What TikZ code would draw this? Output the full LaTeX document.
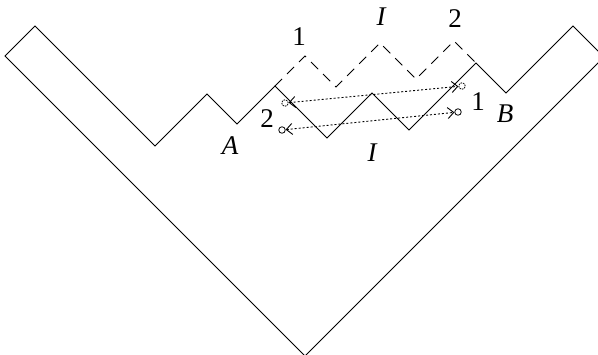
\documentclass[tikz,border=0pt]{standalone}
\usepackage{fontspec}
\setmainfont{Liberation Serif}
\usetikzlibrary{arrows.meta}
\begin{document}
\begin{tikzpicture}[x=1pt,y=-1pt,
  outline/.style={line width=1pt, line join=miter},
  dashline/.style={line width=1pt, dash pattern=on 10pt off 7pt},
  lbl/.style={font=\fontsize{27}{27}\selectfont, inner sep=0pt},
  endpt/.style={circle, draw, line width=0.8pt, minimum size=6.5pt, inner sep=0pt},
  dotendpt/.style={endpt, dash pattern=on 1.5pt off 1pt},
  link/.style={line width=0.9pt, dash pattern=on 2pt off 2pt, {Straight Barb[length=6pt,width=11pt]}-{Straight Barb[length=6pt,width=11pt]}}]
\useasboundingbox (0,0) rectangle (598,354);
\clip (0,0) rectangle (598,354);
% outline
\draw[outline] (5,56) -- (35,26) -- (155,146) -- (207,94) -- (237,124) -- (275,86)
  -- (327,138) -- (372,93) -- (409,130) -- (476,63) -- (506,93) -- (573,26)
  -- (604,57) -- (305,356) -- cycle;
% dashed path
\draw[dashline] (275,86) -- (305,56) -- (336,87) -- (380,43) -- (416,79) -- (454,41) -- (476,63);
% end points
\node[dotendpt] (u1) at (285,103) {};
\node[dotendpt] (u2) at (462,86) {};
\node[endpt] (l1) at (282,130) {};
\node[endpt] (l2) at (458,112) {};
\draw[link] (u1) -- (u2);
\draw[link] (l1) -- (l2);
% labels
\node[lbl] (t1) at (299,37) {1};
\node[lbl] (tI) at (381,17) {\itshape I};
\node[lbl] (t2) at (455,19) {2};
\node[lbl] (lA) at (230,146) {\itshape A};
\node[lbl] (lB) at (505,114) {\itshape B};
\node[lbl] (bI) at (372,153) {\itshape I};
\node[lbl] (b2) at (267,119) {2};
\node[lbl] (b1) at (478,102) {1};
\end{tikzpicture}
\end{document}
